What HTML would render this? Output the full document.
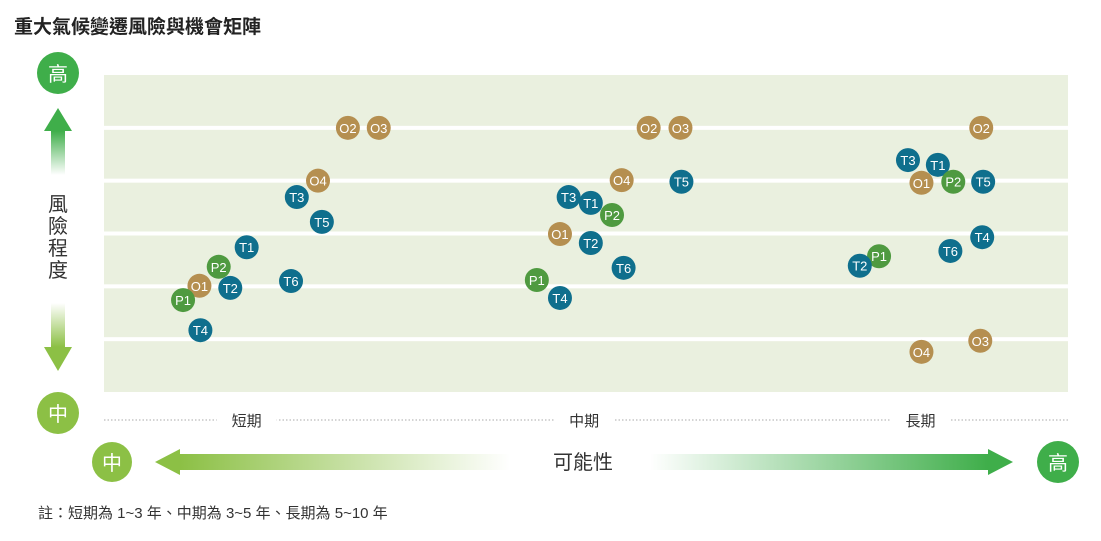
<!DOCTYPE html>
<html><head><meta charset="utf-8"><style>
body{margin:0;background:#fff;}
svg text{font-family:"Liberation Sans","Noto Sans CJK TC",sans-serif;}
</style></head><body>
<svg width="1101" height="536" xmlns="http://www.w3.org/2000/svg">
<defs>
<linearGradient id="gup" x1="0" y1="0" x2="0" y2="1"><stop offset="0" stop-color="#3fae4a"/><stop offset="1" stop-color="#3fae4a" stop-opacity="0"/></linearGradient>
<linearGradient id="gdn" x1="0" y1="0" x2="0" y2="1"><stop offset="0" stop-color="#8cc045" stop-opacity="0"/><stop offset="1" stop-color="#8cc045"/></linearGradient>
<linearGradient id="gl" x1="0" y1="0" x2="1" y2="0"><stop offset="0" stop-color="#8cc045"/><stop offset="1" stop-color="#8cc045" stop-opacity="0"/></linearGradient>
<linearGradient id="gr" x1="0" y1="0" x2="1" y2="0"><stop offset="0" stop-color="#3fae4a" stop-opacity="0"/><stop offset="1" stop-color="#3fae4a"/></linearGradient>
</defs>
<text x="14" y="33" font-size="19" font-weight="bold" fill="#222">重大氣候變遷風險與機會矩陣</text>
<rect x="104" y="75" width="964" height="317" fill="#eaf0df"/>
<g id="grid"></g>
<circle cx="58" cy="73" r="21" fill="#3fae4a"/>
<text x="58" y="81" font-size="20" fill="#fff" text-anchor="middle">高</text>
<polygon points="58,108 72,131 44,131" fill="#3fae4a"/>
<rect x="51" y="131" width="14" height="44" fill="url(#gup)"/>
<g font-size="20" fill="#333" text-anchor="middle">
<text x="58" y="211">風</text><text x="58" y="233">險</text><text x="58" y="255">程</text><text x="58" y="277">度</text></g>
<rect x="51" y="303" width="14" height="44" fill="url(#gdn)"/>
<polygon points="58,371 72,347 44,347" fill="#8cc045"/>
<circle cx="58" cy="413" r="21" fill="#8cc045"/>
<text x="58" y="421" font-size="20" fill="#fff" text-anchor="middle">中</text>
<line x1="104" y1="420" x2="1068" y2="420" stroke="#aaa" stroke-dasharray="1.5,2"/>
<g id="xticks"></g>
<circle cx="112" cy="462" r="20" fill="#8cc045"/>
<text x="112" y="470" font-size="20" fill="#fff" text-anchor="middle">中</text>
<polygon points="155,462 180,449 180,475" fill="#8cc045"/>
<rect x="180" y="454" width="330" height="16" fill="url(#gl)"/>
<text x="583" y="469" font-size="20" fill="#333" text-anchor="middle">可能性</text>
<rect x="650" y="454" width="338" height="16" fill="url(#gr)"/>
<polygon points="1013,462 988,449 988,475" fill="#3fae4a"/>
<circle cx="1058" cy="462" r="21" fill="#3fae4a"/>
<text x="1058" y="470" font-size="20" fill="#fff" text-anchor="middle">高</text>
<text x="38" y="518" font-size="15" fill="#333">註：短期為 1~3 年、中期為 3~5 年、長期為 5~10 年</text>
<g id="points"></g>
</svg>
<script>
const ns="http://www.w3.org/2000/svg";
const xTickLabels=["短期","中期","長期"];
const xTickValues=[14.8,49.8,84.7];
const gridLevels=[1,2,3,4,5];
const labels=["O2","O3","O4","T3","T5","T1","P2","T6","O1","T2","P1","T4",
"O2","O3","O4","T5","T3","T1","P2","O1","T2","T6","P1","T4",
"O2","T3","T1","O1","P2","T5","T4","T6","P1","T2","O3","O4"];
const xValues=[25.3,28.5,22.2,20.0,22.6,14.8,11.9,19.4,9.9,13.1,8.2,10.0,
56.5,59.8,53.7,59.9,48.2,50.5,52.7,47.3,50.5,53.9,44.9,47.3,
91.0,83.4,86.5,84.8,88.1,91.2,91.1,87.8,80.4,78.4,90.9,84.8];
const yValues=[5.0,5.0,4.0,3.69,3.22,2.74,2.37,2.10,2.01,1.97,1.74,1.17,
5.0,5.0,4.01,3.98,3.69,3.58,3.35,2.99,2.82,2.35,2.12,1.78,
5.0,4.39,4.30,3.96,3.98,3.98,2.93,2.67,2.57,2.39,0.97,0.76];
const xs=v=>104+v*9.64;
const ys=v=>392-v*52.83;
const colors={T:"#0f6f8d",O:"#b58f50",P:"#4f9a40"};
const grid=document.getElementById("grid");
gridLevels.forEach(g=>{const l=document.createElementNS(ns,"rect");
l.setAttribute("x",104);l.setAttribute("y",ys(g)-2);l.setAttribute("width",964);l.setAttribute("height",4);l.setAttribute("fill","#fff");


grid.appendChild(l);});
const xt=document.getElementById("xticks");
xTickLabels.forEach((t,i)=>{const cx=xs(xTickValues[i]);
const r=document.createElementNS(ns,"rect");r.setAttribute("x",cx-30);r.setAttribute("y",412);r.setAttribute("width",60);r.setAttribute("height",16);r.setAttribute("fill","#fff");


xt.appendChild(r);
const e=document.createElementNS(ns,"text");e.setAttribute("x",cx);e.setAttribute("y",426);e.setAttribute("font-size","15");e.setAttribute("fill","#333");e.setAttribute("text-anchor","middle");e.textContent=t;


xt.appendChild(e);});
const pg=document.getElementById("points");
labels.forEach((lab,i)=>{const g=document.createElementNS(ns,"g");


const c=document.createElementNS(ns,"circle");c.setAttribute("cx",xs(xValues[i]));c.setAttribute("cy",ys(yValues[i]));c.setAttribute("r",12);c.setAttribute("fill",colors[lab[0]]);
const t=document.createElementNS(ns,"text");t.setAttribute("x",xs(xValues[i]));t.setAttribute("y",ys(yValues[i])+5);t.setAttribute("font-size","13");t.setAttribute("fill","#fff");t.setAttribute("text-anchor","middle");t.textContent=lab;
g.appendChild(c);g.appendChild(t);pg.appendChild(g);});
</script>
</body></html>
